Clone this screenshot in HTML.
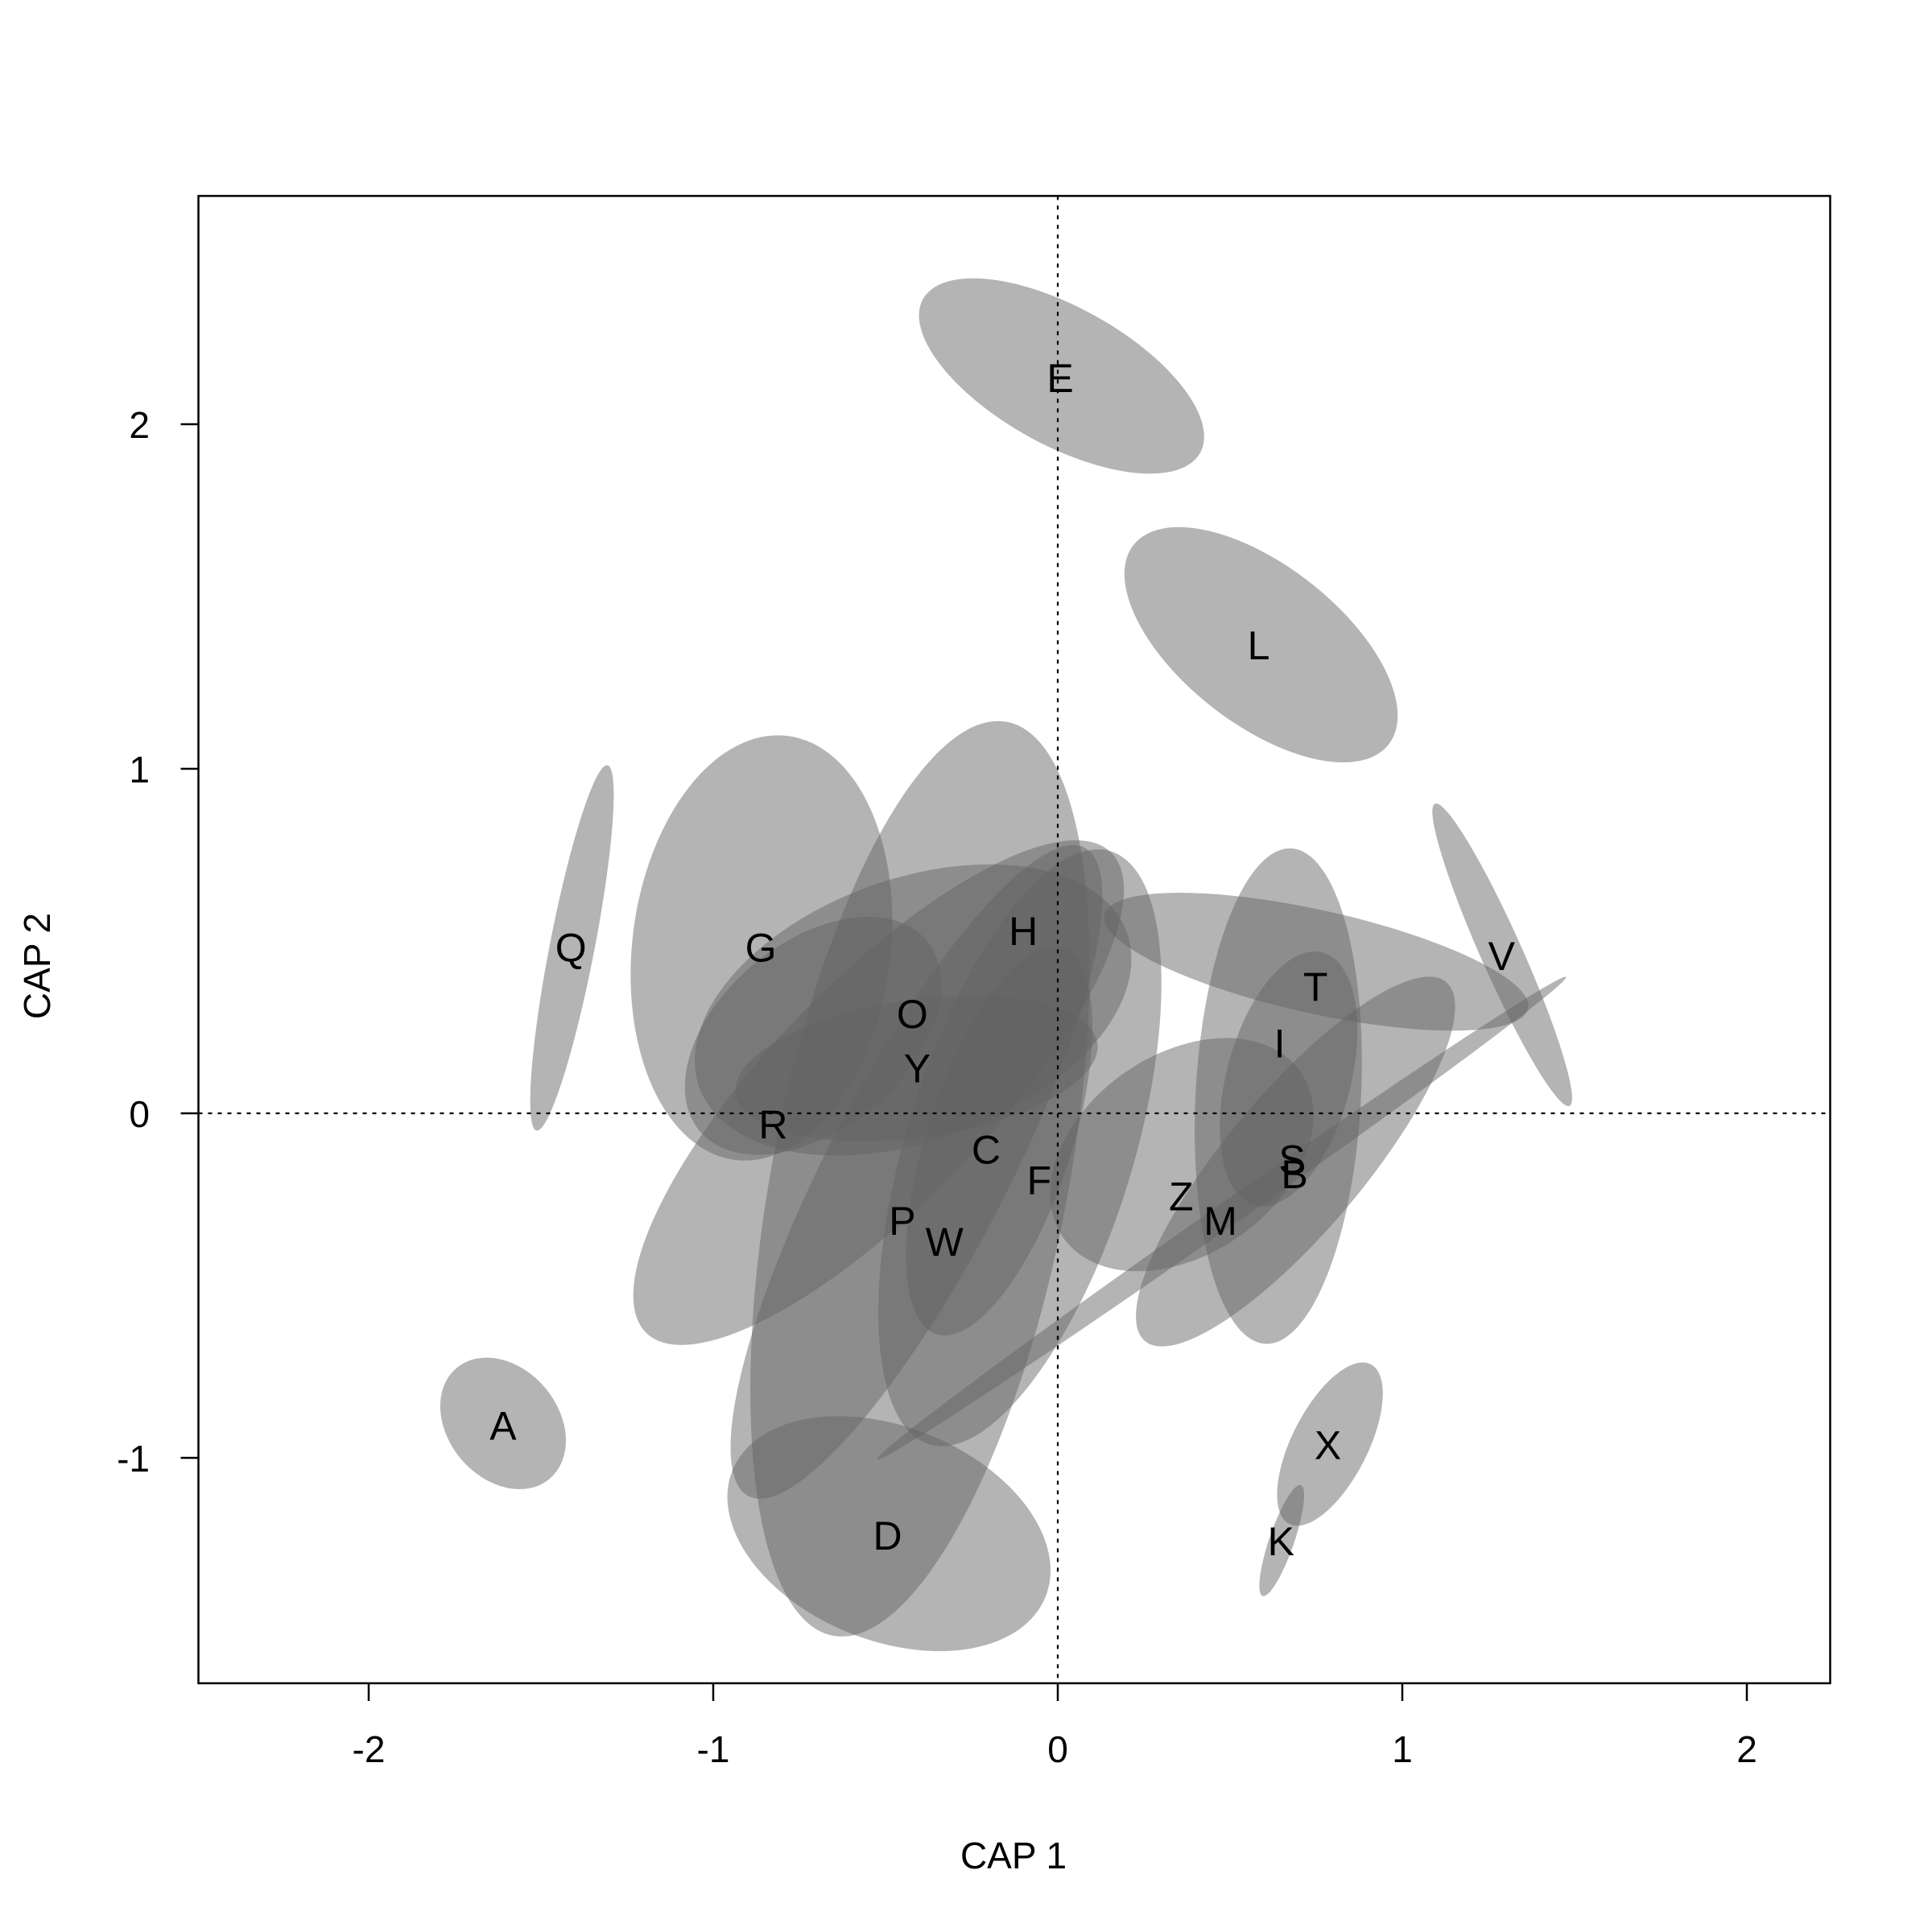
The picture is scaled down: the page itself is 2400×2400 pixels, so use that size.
<!DOCTYPE html>
<html><head><meta charset="utf-8"><style>
html,body{margin:0;padding:0;background:#fff}
svg{display:block}
text{font-family:"Liberation Sans",Arial,sans-serif;fill:#000}
</style></head><body>
<svg id="chart" width="2400" height="2400" viewBox="0 0 2400 2400" xmlns="http://www.w3.org/2000/svg">
<rect x="0" y="0" width="2400" height="2400" fill="#fff"/>
<g id="ellipses"></g>
<g id="guides"></g>
<g id="labels"></g>
<g id="axes"></g>
</svg>
<script>
// Group ellipses: centre x, centre y, semi-axis a, semi-axis b (data units), rotation (deg)
const ellCx  = [0.011, 0.59, -1.41, -0.86, -1.61, 1.29, 0.79, 0.65, -0.49, 0.64, -0.40, -0.41, -0.52, -0.42, -0.71, -0.41, -0.11, -0.17, 0.75, 0.36, 0.69, 0.67, 0.476];
const ellCy  = [2.14, 1.36, 0.48, 0.48, -0.90, 0.46, -0.96, -1.24, -1.22, 0.05, -0.19, -0.17, 0.06, 0.30, 0.225, 0.13, -0.10, -0.08, 0.44, -0.12, -0.14, 0.10, -0.304];
const ellA   = [0.46, 0.47, 0.54, 0.62, 0.21, 0.48, 0.26, 0.17, 0.49, 0.72, 1.35, 1.06, 0.97, 0.66, 0.43, 0.53, 0.90, 0.59, 0.63, 0.42, 0.68, 0.38, 1.22];
const ellB   = [0.20, 0.23, 0.065, 0.375, 0.16, 0.06, 0.11, 0.036, 0.31, 0.24, 0.43, 0.26, 0.32, 0.38, 0.27, 0.20, 0.33, 0.21, 0.15, 0.29, 0.20, 0.18, 0.035];
const ellAng = [29, 38, -79, -83, 50, 66, 117, 109, 22, 93, 100.8, -62.6, -46, -20, -40, -8, -73, -72, 12.5, -35, -50, 105, -35];
// Group labels
const labelText = ["Q","G","H","O","Y","R","C","F","P","W","Z","M","S","B","I","T","V","X","K","D","A","E","L"];
const labelX = [-1.413,-0.862,-0.100,-0.422,-0.408,-0.826,-0.208,-0.054,-0.451,-0.329,0.358,0.472,0.680,0.687,0.644,0.748,1.288,0.784,0.648,-0.494,-1.610,0.007,0.583];
const labelY = [0.483,0.483,0.530,0.290,0.132,-0.032,-0.104,-0.193,-0.311,-0.372,-0.240,-0.311,-0.132,-0.175,0.204,0.369,0.458,-0.962,-1.241,-1.224,-0.905,2.136,1.360];
// Axis ticks
const xTicks = [-2,-1,0,1,2];
const yTicks = [-1,0,1,2];

const NS="http://www.w3.org/2000/svg";
const PL=246.5, PR=2273.5, PT=243.4, PB=2091;
const X0=1314, Y0=1383, U=428;
function sx(v){return X0+v*U;}
function sy(v){return Y0-v*U;}
function mk(tag,parent,attrs){const e=document.createElementNS(NS,tag);for(const k in attrs)e.setAttribute(k,attrs[k]);parent.appendChild(e);return e;}

const gE=document.getElementById('ellipses');
for(let i=0;i<ellCx.length;i++){
  const cx=sx(ellCx[i]), cy=sy(ellCy[i]);
  const e=mk('ellipse',gE,{cx:cx,cy:cy,rx:ellA[i]*U,ry:ellB[i]*U,transform:`rotate(${ellAng[i]} ${cx} ${cy})`,fill:'rgb(100,100,100)','fill-opacity':0.484});
  
  
}
const gG=document.getElementById('guides');
const h=mk('line',gG,{x1:PL,x2:PR,y1:sy(0),y2:sy(0),stroke:'#000','stroke-width':2.2,'stroke-dasharray':'5 7'});


const v=mk('line',gG,{x1:sx(0),x2:sx(0),y1:PT,y2:PB,stroke:'#000','stroke-width':2.2,'stroke-dasharray':'5 7'});



const gL=document.getElementById('labels');
for(let i=0;i<labelText.length;i++){
  const t=mk('text',gL,{x:sx(labelX[i]),y:sy(labelY[i])+18,'text-anchor':'middle','font-size':50});
  t.textContent=labelText[i];
  
  
}

const gA=document.getElementById('axes');
const box=mk('rect',gA,{x:PL,y:PT,width:PR-PL,height:PB-PT,fill:'none',stroke:'#000','stroke-width':2.5});


for(const t of xTicks){
  const l=mk('line',gA,{x1:sx(t),x2:sx(t),y1:PB,y2:PB+22,stroke:'#000','stroke-width':2.5});
  
  
  const tx=mk('text',gA,{x:sx(t),y:2189,'text-anchor':'middle','font-size':46});
  tx.textContent=t;
  
  
}
for(const t of yTicks){
  const l=mk('line',gA,{x1:PL,x2:PL-22,y1:sy(t),y2:sy(t),stroke:'#000','stroke-width':2.5});
  
  
  const tx=mk('text',gA,{x:186,y:sy(t)+17,'text-anchor':'end','font-size':46});
  tx.textContent=t;
  
  
}
const xt=mk('text',gA,{x:1259,y:2321,'text-anchor':'middle','font-size':46});
xt.textContent='CAP 1';


const yt=mk('text',gA,{x:62,y:1200,'text-anchor':'middle','font-size':46,transform:'rotate(-90 62 1200)'});
yt.textContent='CAP 2';


</script>
</body></html>
